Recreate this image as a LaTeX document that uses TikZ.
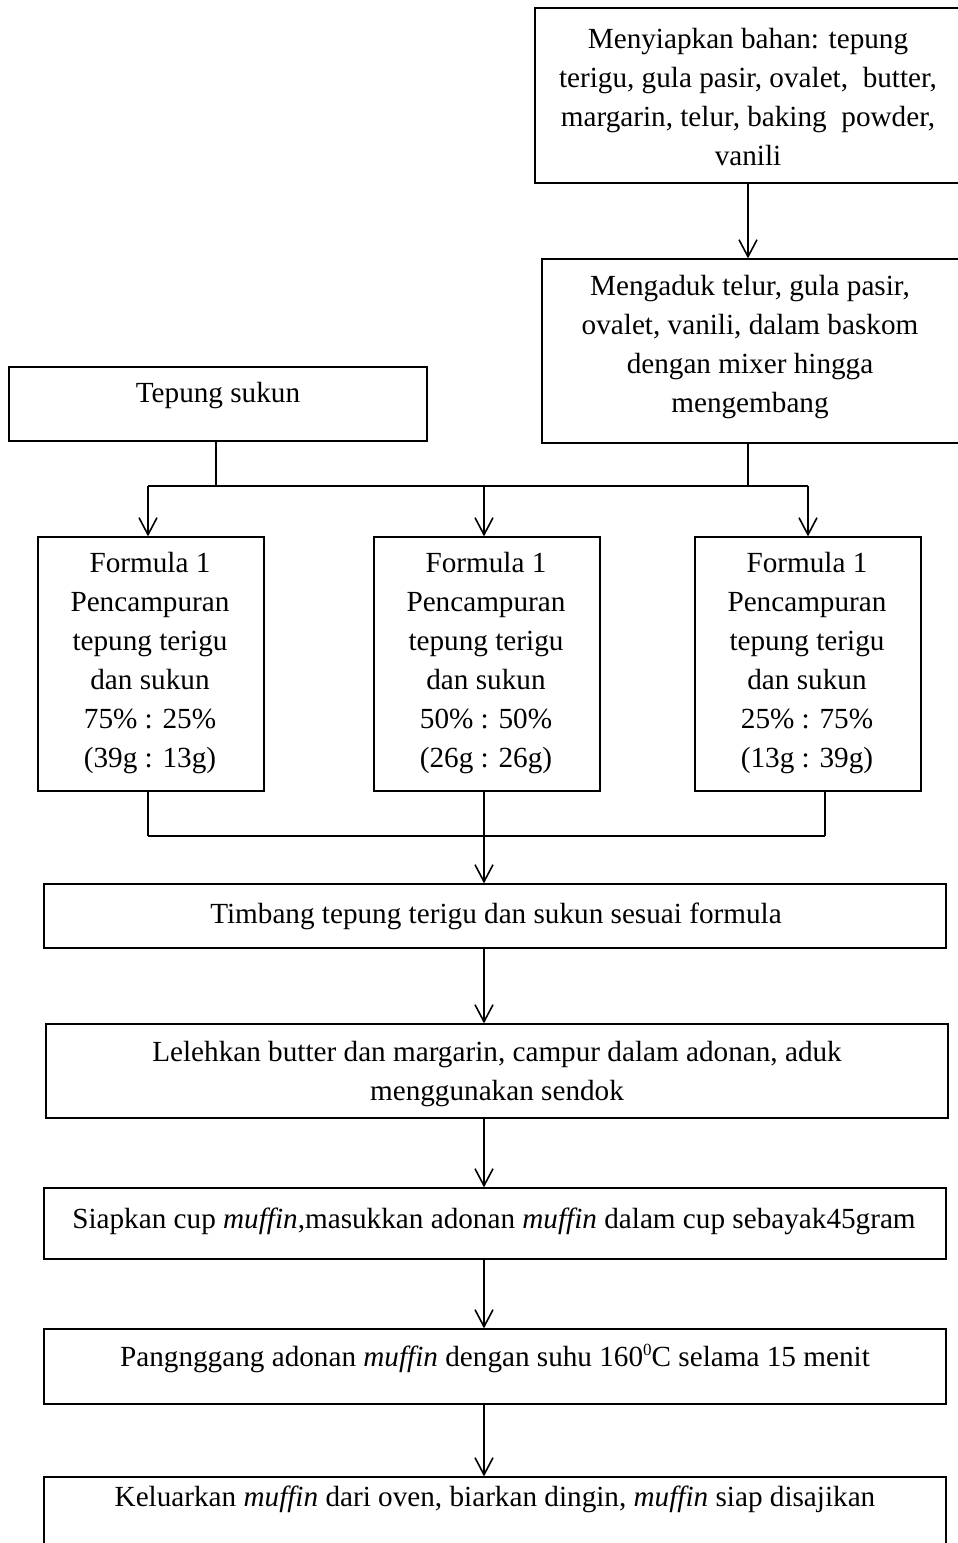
\documentclass[tikz,border=0pt]{standalone}
\usepackage{fontspec}
\setmainfont{Liberation Serif}
\usetikzlibrary{arrows.meta,fit}
\begin{document}
\begin{tikzpicture}[x=0.5pt,y=-0.5pt,
 box/.style={draw, line width=0.6pt, inner sep=0pt},
 txt/.style={align=center, font=\fontsize{14.6}{19.5}\selectfont, inner sep=0pt},
 arr/.style={line width=0.8pt, -{Straight Barb[length=8.5pt,width=9pt,line width=0.8pt]}},
 ln/.style={line width=0.8pt}]
\useasboundingbox (0,0) rectangle (958,1543);
% boxes
\node[box, fit={(535,8) (962,183)}] (prep) {};
\node[box, fit={(542,259) (963,443)}] (aduk) {};
\node[box, fit={(9,367) (427,441)}] (sukun) {};
\node[box, fit={(38,537) (264,791)}] (fa) {};
\node[box, fit={(374,537) (600,791)}] (fb) {};
\node[box, fit={(695,537) (921,791)}] (fc) {};
\node[box, fit={(44,884) (946,948)}] (timbang) {};
\node[box, fit={(46,1024) (948,1118)}] (leleh) {};
\node[box, fit={(44,1188) (946,1259)}] (siap) {};
\node[box, fit={(44,1329) (946,1404)}] (panggang) {};
\node[box, fit={(44,1477) (946,1570)}] (keluar) {};
% texts
\node[txt] (tprep) at (748,97) {Menyiapkan bahan: tepung\\terigu, gula pasir, ovalet,\ \ butter,\\margarin, telur, baking\ \ powder,\\vanili};
\node[txt] (taduk) at (750,347) {Mengaduk telur, gula pasir,\\ovalet, vanili, dalam baskom\\dengan mixer hingga\\mengembang};
\node[txt] (tsukun) at (218,396) {Tepung sukun};
\node[txt] (tfa) at (150,663) {Formula 1\\Pencampuran\\tepung terigu\\dan sukun\\75\% : 25\%\\(39g : 13g)};
\node[txt] (tfb) at (486,663) {Formula 1\\Pencampuran\\tepung terigu\\dan sukun\\50\% : 50\%\\(26g : 26g)};
\node[txt] (tfc) at (807,663) {Formula 1\\Pencampuran\\tepung terigu\\dan sukun\\25\% : 75\%\\(13g : 39g)};
\node[txt] (ttimbang) at (496,916) {Timbang tepung terigu dan sukun sesuai formula};
\node[txt] (tleleh) at (497,1074) {Lelehkan butter dan margarin, campur dalam adonan, aduk\\menggunakan sendok};
\node[txt] (tsiap) at (494,1221) {Siapkan cup \textit{muffin},masukkan adonan \textit{muffin} dalam cup sebayak45gram};
\node[txt] (tpanggang) at (495,1358) {Pangnggang adonan \textit{muffin} dengan suhu 160\raisebox{5.5pt}{\fontsize{8.5}{8}\selectfont 0}C selama 15 menit};
\node[txt] (tkeluar) at (495,1499) {Keluarkan \textit{muffin} dari oven, biarkan dingin, \textit{muffin} siap disajikan};
% junction coordinates
\coordinate (busL) at (148,486);
\coordinate (busM) at (484,486);
\coordinate (busR) at (808,486);
\coordinate (sukunJ) at (216,486);
\coordinate (adukJ) at (748,486);
\coordinate (sukunB) at (216,441);
\coordinate (adukB) at (748,443);
\coordinate (joinL) at (148,836);
\coordinate (joinR) at (825,836);
\coordinate (faB) at (148,791);
\coordinate (fcB) at (825,791);
\coordinate (fbB) at (484,791);
% connectors
\draw[arr] (prep.south -| adukB) -- (adukB |- aduk.north);
\draw[ln] (sukunB) -- (sukunJ);
\draw[ln] (adukB) -- (adukJ);
\draw[ln] (busL) -- (busR);
\draw[arr] (busL) -- (busL |- fa.north);
\draw[arr] (busM) -- (busM |- fb.north);
\draw[arr] (busR) -- (busR |- fc.north);
\draw[ln] (faB) -- (joinL);
\draw[ln] (fcB) -- (joinR);
\draw[ln] (joinL) -- (joinR);
\draw[arr] (fbB) -- (fbB |- timbang.north);
\draw[arr] (fbB |- timbang.south) -- (fbB |- leleh.north);
\draw[arr] (fbB |- leleh.south) -- (fbB |- siap.north);
\draw[arr] (fbB |- siap.south) -- (fbB |- panggang.north);
\draw[arr] (fbB |- panggang.south) -- (fbB |- keluar.north);
\end{tikzpicture}
\end{document}
